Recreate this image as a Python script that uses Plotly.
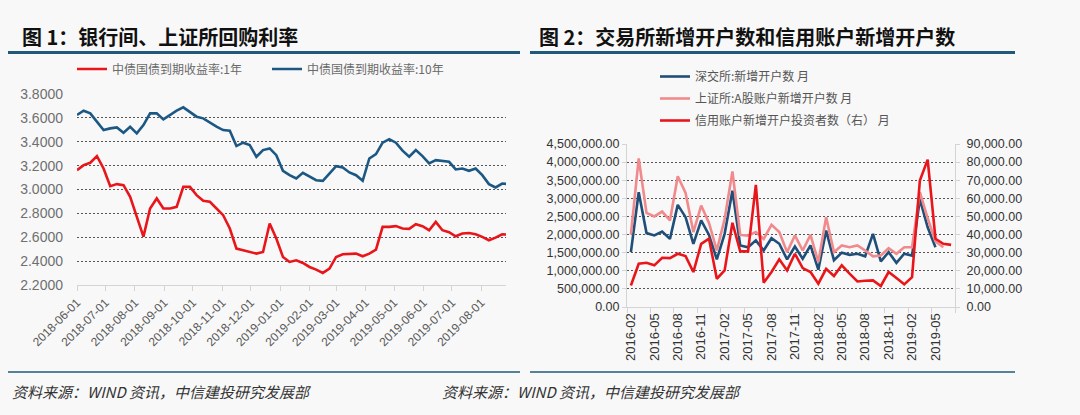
import pandas as pd
import plotly.graph_objects as go

# ---- 图1: 国债到期收益率 (周度取样, 读自原图) ----
rate_dates = pd.date_range('2018-06-01', periods=66, freq='7D')
yield_1y = [3.162, 3.204, 3.224, 3.280, 3.176, 3.028, 3.045, 3.036, 2.939, 2.771,
            2.605, 2.841, 2.925, 2.841, 2.841, 2.855, 3.022, 3.022, 2.953, 2.905,
            2.897, 2.841, 2.785, 2.673, 2.505, 2.491, 2.477, 2.463, 2.477, 2.715,
            2.589, 2.435, 2.393, 2.407, 2.385, 2.351, 2.329, 2.301, 2.337, 2.435,
            2.457, 2.463, 2.463, 2.441, 2.463, 2.497, 2.687, 2.687, 2.693, 2.673,
            2.670, 2.709, 2.693, 2.659, 2.729, 2.659, 2.642, 2.608, 2.631, 2.636,
            2.625, 2.603, 2.575, 2.597, 2.625, 2.622]
yield_10y = [3.624, 3.660, 3.638, 3.568, 3.498, 3.512, 3.520, 3.476, 3.526, 3.470,
             3.540, 3.638, 3.638, 3.587, 3.624, 3.660, 3.688, 3.652, 3.610, 3.596,
             3.559, 3.526, 3.498, 3.492, 3.364, 3.392, 3.372, 3.274, 3.330, 3.344,
             3.288, 3.157, 3.120, 3.092, 3.140, 3.106, 3.078, 3.073, 3.134, 3.196,
             3.185, 3.143, 3.120, 3.073, 3.260, 3.297, 3.392, 3.422, 3.392, 3.325,
             3.274, 3.330, 3.280, 3.218, 3.246, 3.241, 3.232, 3.168, 3.176, 3.157,
             3.176, 3.120, 3.045, 3.017, 3.050, 3.045]
rate_ticks = pd.date_range('2018-06-01', '2019-08-01', freq='MS')

# ---- 图2: 新增开户数 (月度) ----
months = pd.period_range('2016-02', periods=42, freq='M').strftime('%Y-%m').tolist()
szse_new = [1515000, 3168000, 2040000, 1975000, 2085000, 1880000, 2820000, 2480000,
            1745000, 2390000, 1990000, 1313000, 2020000, 3210000, 1700000, 1650000,
            1840000, 1560000, 1900000, 1745000, 1313000, 1670000, 1330000, 1700000,
            1030000, 2110000, 1290000, 1500000, 1440000, 1470000, 1400000, 2020000,
            1260000, 1515000, 1220000, 1470000, 1420000, 2980000, 2200000, 1650000]
sse_new = [2000000, 4100000, 2600000, 2500000, 2635000, 2390000, 3610000, 3150000,
           2070000, 2800000, 2320000, 1560000, 2430000, 3740000, 1990000, 1970000,
           2070000, 1880000, 2270000, 2070000, 1515000, 1975000, 1560000, 1990000,
           1240000, 2480000, 1515000, 1700000, 1650000, 1700000, 1560000, 1400000,
           1420000, 1625000, 1470000, 1650000, 1650000, 3170000, 2450000, 1810000,
           1650000]
credit_new = [11900, 23900, 24400, 23000, 27200, 27000, 29400, 28100, 19300, 34900,
              37700, 15600, 20200, 46500, 30700, 30700, 67400, 13400, 19300, 26300,
              20200, 29400, 21500, 19300, 12900, 21100, 17100, 23000, 18400, 14100,
              14500, 14700, 11600, 19300, 16000, 12500, 16500, 69800, 81400, 37700,
              34900, 34300]

W, H = 1080, 415
BG = '#f8f8f8'
TEAL = '#1f5a7a'
FONT = 'Liberation Sans, Arial, Noto Sans CJK SC'
CJK = 'Noto Sans CJK SC'


def px(x):
    return x / W


def py(y):
    return 1 - y / H


fig = go.Figure()

fig.add_trace(go.Scatter(x=rate_dates, y=yield_1y, name='中债国债到期收益率:1年',
                         mode='lines', line=dict(color='#e8161b', width=2.6),
                         xaxis='x', yaxis='y', legend='legend'))
fig.add_trace(go.Scatter(x=rate_dates, y=yield_10y, name='中债国债到期收益率:10年',
                         mode='lines', line=dict(color='#1c5883', width=2.6),
                         xaxis='x', yaxis='y', legend='legend'))

fig.add_trace(go.Scatter(x=months[:len(szse_new)], y=szse_new, name='深交所:新增开户数 月',
                         mode='lines', line=dict(color='#1f4e79', width=2.6),
                         xaxis='x2', yaxis='y2', legend='legend2', legendgroup='a'))
fig.add_trace(go.Scatter(x=months[:len(sse_new)], y=sse_new, name='上证所:A股账户新增开户数 月',
                         mode='lines', line=dict(color='#f08a8c', width=2.6),
                         xaxis='x2', yaxis='y2', legend='legend2', legendgroup='b'))
fig.add_trace(go.Scatter(x=months[:len(credit_new)], y=credit_new, name='信用账户新增开户投资者数（右） 月',
                         mode='lines', line=dict(color='#e8161b', width=2.6),
                         xaxis='x2', yaxis='y3', legend='legend2', legendgroup='c'))

grid = dict(gridcolor='#555555', griddash='2px,2px', gridwidth=1)
axis_line = '#d4d4d4'

fig.update_layout(
    width=W, height=H,
    margin=dict(l=0, r=0, t=0, b=0, pad=0, autoexpand=False),
    paper_bgcolor=BG, plot_bgcolor=BG,
    font=dict(family=FONT, color='#595959'),
    xaxis=dict(domain=[px(77), px(506)], anchor='y', type='date', automargin=False,
               range=['2018-06-01', '2019-08-27'],
               tickvals=rate_ticks, tickformat='%Y-%m-%d', tickangle=-45,
               ticks='outside', ticklen=5, tickcolor=axis_line,
               showline=True, linecolor=axis_line, showgrid=False,
               tickfont=dict(size=12, color='#595959')),
    yaxis=dict(domain=[py(285), py(94)], anchor='x', range=[2.2, 3.8], dtick=0.2,
               tickformat='.4f', zeroline=False, showline=False, automargin=False,
               ticklabelstandoff=13, tickfont=dict(size=14, color='#6f6f6f'), **grid),
    xaxis2=dict(domain=[px(627), px(955)], anchor='y2', type='category', automargin=False,
                range=[-0.5, 41.5], tickmode='linear', tick0=0, dtick=3,
                tickson='boundaries', tickangle=-90, ticks='outside', ticklen=5,
                tickcolor=axis_line, showline=True, linecolor=axis_line, showgrid=False,
                tickfont=dict(size=13, color='#333333')),
    yaxis2=dict(domain=[py(307), py(144)], anchor='x2', range=[0, 4500000], dtick=500000,
                tickformat=',.2f', zeroline=False, showline=True, linecolor=axis_line,
                ticks='outside', ticklen=4, tickcolor=axis_line, automargin=False,
                tickfont=dict(size=12.5, color='#333333'), **grid),
    yaxis3=dict(overlaying='y2', side='right', anchor='x2', range=[0, 90000], dtick=10000,
                tickformat=',.2f', zeroline=False, showgrid=False, showline=True,
                linecolor=axis_line, ticks='outside', ticklen=4, tickcolor=axis_line,
                automargin=False, ticklabelstandoff=4,
                tickfont=dict(size=12.5, color='#333333')),
    legend=dict(orientation='h', x=px(72), y=py(69), xanchor='left', yanchor='middle',
                bgcolor='rgba(0,0,0,0)', itemwidth=30, entrywidth=150,
                font=dict(family=CJK, size=12, color='#6a6a6a')),
    legend2=dict(orientation='v', x=px(655), y=py(62), xanchor='left', yanchor='top',
                 bgcolor='rgba(0,0,0,0)', itemwidth=30, tracegroupgap=3,
                 font=dict(family=CJK, size=12, color='#555555')),
    showlegend=True,
)

# 标题下划线与底部分隔线
for x0, x1 in [(8, 520), (530, 1015)]:
    fig.add_shape(type='line', xref='paper', yref='paper', x0=px(x0), x1=px(x1),
                  y0=py(52.5), y1=py(52.5), line=dict(color=TEAL, width=3.2))
    fig.add_shape(type='line', xref='paper', yref='paper', x0=px(x0), x1=px(x1),
                  y0=py(372), y1=py(372), line=dict(color=TEAL, width=1.6))

titles = [('图 1：银行间、上证所回购利率', 20), ('图 2：交易所新增开户数和信用账户新增开户数', 537)]
for text, x in titles:
    fig.add_annotation(text='<b>' + text + '</b>', xref='paper', yref='paper',
                       x=px(x), y=py(36), xanchor='left', yanchor='middle', showarrow=False,
                       font=dict(family=CJK, size=20, color='#111111'))

for x in [10, 440]:
    fig.add_annotation(text='<i>资料来源：WIND 资讯，中信建投研究发展部</i>', xref='paper', yref='paper',
                       x=px(x), y=py(391), xanchor='left', yanchor='middle', showarrow=False,
                       font=dict(family=CJK, size=15, color='#333333'))

fig.write_html('out.html', config={'displayModeBar': False},
               post_script="document.body.style.margin='0';")
